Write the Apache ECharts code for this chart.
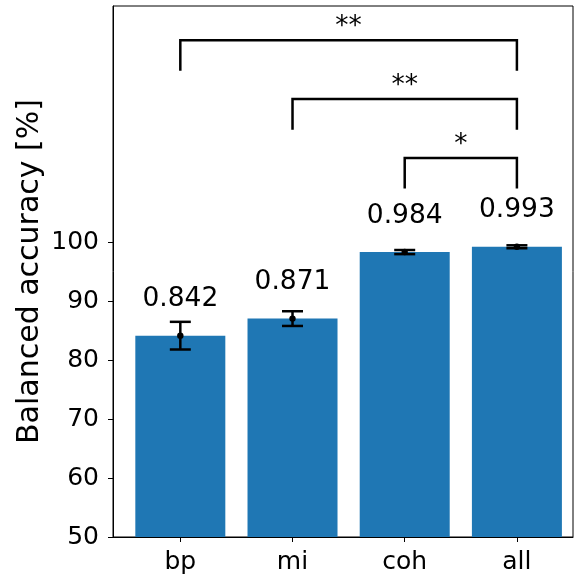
<!DOCTYPE html>
<html>
<head>
<meta charset="utf-8">
<script src="https://cdn.jsdelivr.net/npm/echarts@6/dist/echarts.min.js"></script>
<style>html,body{margin:0;padding:0;background:#fff}#chart{width:574px;height:580px}</style>
</head>
<body>
<div id="chart"></div>
<script>
const categories = ['bp', 'mi', 'coh', 'all'];
const accuracy = [84.2, 87.1, 98.4, 99.3];
const errors = [2.35, 1.25, 0.35, 0.25];
const yTicks = [50, 60, 70, 80, 90, 100];
const sigFrom = [0, 1, 2];
const sigTo = [3, 3, 3];
const sigLevels = [134.4, 124.4, 114.4];
const sigMarks = ['**', '**', '*'];

const FONT = 'DejaVu Sans';
const barColor = '#1f77b4';
const positions = categories.map((c, i) => i);

const chart = echarts.init(document.getElementById('chart'), null, {renderer: 'canvas'});

const barData = categories.map((c, i) => [i, accuracy[i]]);
const errData = categories.map((c, i) => [i, accuracy[i], errors[i]]);
const labelData = categories.map((c, i) => [i, accuracy[i], (accuracy[i] / 100).toFixed(3)]);
const sigData = sigLevels.map((lv, k) => [sigFrom[k], sigTo[k], lv, sigMarks[k]]);

const option = {
  animation: false,
  backgroundColor: '#fff',
  grid: {left: 113, right: 1, top: 6, bottom: 43, show: true, borderColor: '#000', borderWidth: 1, backgroundColor: 'transparent'},
  xAxis: {
    type: 'value', min: -0.6, max: 3.5,
    splitLine: {show: false},
    axisLine: {show: true, onZero: false, lineStyle: {color: '#000', width: 1}},
    axisTick: {show: true, length: 5, lineStyle: {color: '#000', width: 1}, customValues: positions},
    axisLabel: {customValues: positions, formatter: v => categories[Math.round(v)] || '', color: '#000', fontFamily: FONT, fontSize: 25, margin: 13}
  },
  yAxis: {
    type: 'value', min: 50, max: 140.2,
    name: 'Balanced accuracy [%]', nameLocation: 'middle', nameGap: 68, nameRotate: 90,
    nameMoveOverlap: false,
    nameTextStyle: {fontFamily: FONT, fontSize: 30, color: '#000'},
    splitLine: {show: false},
    axisLine: {show: true, onZero: false, lineStyle: {color: '#000', width: 1}},
    axisTick: {show: true, length: 5, lineStyle: {color: '#000', width: 1}, customValues: yTicks},
    axisLabel: {customValues: yTicks, color: '#000', fontFamily: FONT, fontSize: 25, margin: 14}
  },
  series: [
    {
      type: 'bar', data: barData, barWidth: 90, itemStyle: {color: barColor}, z: 2
    },
    {
      type: 'custom', data: errData, encode: {x: 0, y: 1}, z: 3,
      renderItem: function (params, api) {
        const x = api.value(0), y = api.value(1), e = api.value(2);
        const top = api.coord([x, y + e]);
        const bot = api.coord([x, y - e]);
        const c = api.coord([x, y]);
        const st = {stroke: '#000', lineWidth: 2.5};
        const cap = 10.5;
        return {type: 'group', children: [
          {type: 'line', shape: {x1: top[0], y1: top[1], x2: bot[0], y2: bot[1]}, style: st},
          {type: 'line', shape: {x1: top[0] - cap, y1: top[1], x2: top[0] + cap, y2: top[1]}, style: st},
          {type: 'line', shape: {x1: bot[0] - cap, y1: bot[1], x2: bot[0] + cap, y2: bot[1]}, style: st},
          {type: 'circle', shape: {cx: c[0], cy: c[1], r: 3.2}, style: {fill: '#000'}}
        ]};
      }
    },
    {
      type: 'custom', data: labelData, encode: {x: 0, y: 1}, z: 4,
      renderItem: function (params, api) {
        const x = api.value(0), y = api.value(1);
        const p = api.coord([x, y + 6.7]);
        return {type: 'text', x: p[0], y: p[1] + 3, style: {text: labelData[params.dataIndex][2], fill: '#000', font: '26.5px "DejaVu Sans"', align: 'center', verticalAlign: 'middle'}};
      }
    },
    {
      type: 'custom', data: sigData, encode: {x: [0, 1], y: 2}, z: 4,
      renderItem: function (params, api) {
        const a = api.value(0), b = api.value(1), lv = api.value(2);
        const p1 = api.coord([a, lv]);
        const p2 = api.coord([b, lv]);
        const d1 = api.coord([a, lv - 5.2]);
        const st = {stroke: '#000', lineWidth: 2.5, fill: null};
        return {type: 'group', children: [
          {type: 'polyline', shape: {points: [[p1[0], d1[1]], p1, p2, [p2[0], d1[1]]]}, style: st},
          {type: 'text', x: (p1[0] + p2[0]) / 2, y: p1[1] - 13, style: {text: sigData[params.dataIndex][3], fill: '#000', font: '26.5px "DejaVu Sans"', align: 'center', verticalAlign: 'middle'}}
        ]};
      }
    }
  ]
};
chart.setOption(option);
</script>
</body>
</html>
